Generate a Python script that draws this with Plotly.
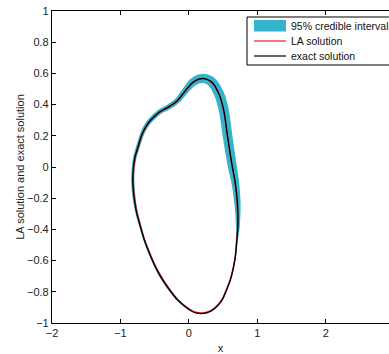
import numpy as np
import plotly.graph_objects as go

# exact solution (closed curve)
exact_x = [-0.82, -0.81, -0.79, -0.75, -0.68, -0.62, -0.56, -0.44, -0.29, -0.17, -0.05, 0.07, 0.205,
           0.33, 0.44, 0.51, 0.56, 0.61, 0.645, 0.675, 0.71, 0.717, 0.70, 0.68, 0.65, 0.61, 0.55,
           0.49, 0.42, 0.34, 0.26, 0.186, 0.10, 0.025, -0.07, -0.17, -0.28, -0.39, -0.49, -0.58,
           -0.65, -0.71, -0.76, -0.79, -0.81]
exact_y = [-0.08, 0.0, 0.06, 0.12, 0.215, 0.265, 0.30, 0.35, 0.387, 0.425, 0.49, 0.547, 0.568,
           0.547, 0.47, 0.365, 0.216, 0.07, -0.02, -0.09, -0.23, -0.38, -0.48, -0.575, -0.65, -0.72,
           -0.79, -0.85, -0.89, -0.92, -0.935, -0.94, -0.935, -0.92, -0.89, -0.85, -0.79, -0.72,
           -0.64, -0.55, -0.47, -0.38, -0.30, -0.23, -0.16]

# LA solution (almost identical to the exact one)
la_x = [-0.812, -0.802, -0.782, -0.743, -0.675, -0.616, -0.557, -0.438, -0.289, -0.17, -0.05, 0.07,
        0.205, 0.33, 0.438, 0.507, 0.557, 0.607, 0.642, 0.672, 0.706, 0.713, 0.697, 0.677, 0.647,
        0.607, 0.548, 0.488, 0.418, 0.339, 0.26, 0.186, 0.10, 0.026, -0.068, -0.167, -0.276,
        -0.385, -0.485, -0.575, -0.645, -0.704, -0.753, -0.783, -0.802]
la_y = [-0.08, 0.0, 0.06, 0.12, 0.213, 0.262, 0.297, 0.347, 0.384, 0.422, 0.487, 0.544, 0.565,
        0.544, 0.467, 0.363, 0.215, 0.07, -0.02, -0.09, -0.23, -0.38, -0.48, -0.573, -0.647,
        -0.716, -0.785, -0.845, -0.885, -0.915, -0.93, -0.935, -0.93, -0.915, -0.886, -0.846,
        -0.786, -0.716, -0.637, -0.547, -0.468, -0.378, -0.298, -0.23, -0.16]

# 95% credible interval half-width along the curve (in y-axis units)
ci_half = [0.010, 0.010, 0.011, 0.012, 0.013, 0.014, 0.015, 0.016, 0.017, 0.018, 0.021, 0.026,
           0.029, 0.031, 0.032, 0.032, 0.031, 0.030, 0.028, 0.025, 0.020, 0.012, 0.006, 0.004,
           0.003, 0.003, 0.003, 0.003, 0.003, 0.003, 0.003, 0.003, 0.003, 0.004, 0.005, 0.006,
           0.006, 0.006, 0.006, 0.006, 0.006, 0.007, 0.008, 0.009, 0.010]

legend_labels = ["95% credible interval", "LA solution", "exact solution"]

x_range = [-2, 2.925]
y_range = [-1, 1]
W, H = 389, 354
ML, MR, MT, MB = 52, 0, 11, 31
sx = (W - ML - MR) / (x_range[1] - x_range[0])
sy = (H - MT - MB) / (y_range[1] - y_range[0])

CYAN = "rgb(52,180,204)"
RED = "rgb(230,30,30)"

# band edges: offset along the normal in pixel space
ex = np.array(exact_x); ey = np.array(exact_y); hw = np.array(ci_half) * sy
px = ex * sx; py = ey * sy
tx = np.roll(px, -1) - np.roll(px, 1)
ty = np.roll(py, -1) - np.roll(py, 1)
n = np.hypot(tx, ty)
nx = ty / n; ny = -tx / n
ox = (px + nx * hw) / sx; oy = (py + ny * hw) / sy
ix = (px - nx * hw) / sx; iy = (py - ny * hw) / sy
def area(x, y):
    return 0.5 * abs(np.dot(x, np.roll(y, 1)) - np.dot(y, np.roll(x, 1)))
if area(ix, iy) > area(ox, oy):
    ox, oy, ix, iy = ix, iy, ox, oy

START = 31  # start loops at the flat bottom point so the spline join is invisible

def closed(a):
    a = list(np.roll(np.asarray(a, dtype=float), -START))
    return a + [a[0]]

fig = go.Figure()
fig.add_trace(go.Scatter(x=closed(ox), y=closed(oy), mode="lines", fill="toself",
                         fillcolor=CYAN, line=dict(width=0, color=CYAN, shape="spline", smoothing=1),
                         showlegend=False, hoverinfo="skip"))
fig.add_trace(go.Scatter(x=closed(ix), y=closed(iy), mode="lines", fill="toself",
                         fillcolor="white", line=dict(width=0, color="white", shape="spline", smoothing=1),
                         showlegend=False, hoverinfo="skip"))
fig.add_trace(go.Scatter(x=closed(la_x), y=closed(la_y), mode="lines",
                         line=dict(color=RED, width=1.3, shape="spline", smoothing=1),
                         showlegend=False))
fig.add_trace(go.Scatter(x=closed(exact_x), y=closed(exact_y), mode="lines",
                         line=dict(color="black", width=1.3, shape="spline", smoothing=1),
                         showlegend=False))

# legend drawn by hand (pixel positions converted to paper coords)
def pxx(v):
    return (v - ML) / (W - ML - MR)
def pyy(v):
    return 1 - (v - MT) / (H - MT - MB)

shapes = [
    dict(type="rect", xref="paper", yref="paper", x0=pxx(247), x1=pxx(389.5), y0=pyy(65), y1=pyy(17),
         line=dict(color="black", width=1), fillcolor="white", layer="above"),
    dict(type="rect", xref="paper", yref="paper", x0=pxx(254), x1=pxx(286), y0=pyy(31.5), y1=pyy(20),
         line=dict(width=0), fillcolor=CYAN, layer="above"),
    dict(type="line", xref="paper", yref="paper", x0=pxx(254), x1=pxx(286), y0=pyy(41), y1=pyy(41),
         line=dict(color=RED, width=1.2), layer="above"),
    dict(type="line", xref="paper", yref="paper", x0=pxx(254), x1=pxx(286), y0=pyy(56), y1=pyy(56),
         line=dict(color="black", width=1.2), layer="above"),
]
annotations = []
for lbl, yy in zip(legend_labels, [26, 41, 56]):
    annotations.append(dict(text=lbl, xref="paper", yref="paper", x=pxx(289), y=pyy(yy),
                            xanchor="left", yanchor="middle", showarrow=False,
                            font=dict(size=10.5, color="#111")))

font = dict(family="Liberation Sans, Arial, sans-serif", size=11, color="#222")
fig.update_layout(
    width=W, height=H, margin=dict(l=ML, r=MR, t=MT, b=MB),
    paper_bgcolor="white", plot_bgcolor="white", font=font,
    showlegend=False, shapes=shapes, annotations=annotations,
    xaxis=dict(range=x_range, tickvals=[-2, -1, 0, 1, 2], ticks="inside", ticklen=4,
               tickcolor="black", showline=True, linecolor="black", linewidth=1.2,
               mirror="ticks", showgrid=False, zeroline=False,
               title=dict(text="x", standoff=6, font=dict(size=11))),
    yaxis=dict(range=y_range, tickvals=[-1, -0.8, -0.6, -0.4, -0.2, 0, 0.2, 0.4, 0.6, 0.8, 1],
               ticktext=["−1", "−0.8", "−0.6", "−0.4", "−0.2", "0", "0.2", "0.4", "0.6", "0.8", "1"],
               ticks="inside", ticklen=4, tickcolor="black", showline=True, linecolor="black",
               linewidth=1.2, showgrid=False, zeroline=False,
               title=dict(text="LA solution and exact solution", standoff=0, font=dict(size=11))),
)
fig.write_html("out.html")
